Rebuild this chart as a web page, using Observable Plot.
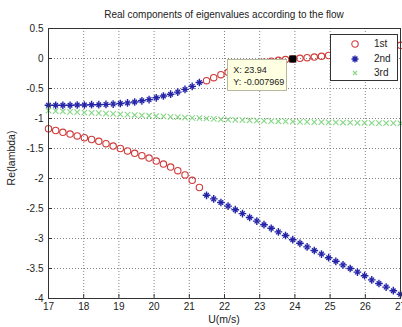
<!DOCTYPE html>
<html>
<head>
<meta charset="utf-8">
<script src="https://cdn.jsdelivr.net/npm/d3@7"></script>
<script src="https://cdn.jsdelivr.net/npm/@observablehq/plot@0.6"></script>
<style>
  html, body { margin: 0; padding: 0; background: #fff; }
  #wrap { position: relative; width: 402px; height: 327px; overflow: hidden; background: #fff;
          font-family: "Liberation Sans", Arial, sans-serif; color: #222; }
  #title { position: absolute; left: 48px; width: 352px; top: 9px; text-align: center; font-size: 10px; line-height: 12px; }
  #plot { position: absolute; left: 0; top: 20px; }
  #xlabel { position: absolute; left: 48px; width: 352px; top: 313px; text-align: center; font-size: 10.5px; line-height: 13px; }
  #ylabel { position: absolute; left: 11px; top: 158px; font-size: 10.5px; line-height: 12px; white-space: nowrap;
            transform: translate(-50%, -50%) rotate(-90deg); }
  #legend { position: absolute; left: 330px; top: 34px; width: 68px; height: 47px; border: 1px solid #333; background: #fff; box-sizing: border-box; }
  .lrow { position: absolute; left: 0; height: 14px; width: 68px; font-size: 10px; line-height: 14px; }
  .lrow svg { position: absolute; left: 19px; top: 2px; }
  .lrow span { position: absolute; left: 43px; top: 0; }
  #tip { position: absolute; background: #ffffe1; border: 1px solid #b8b8a0; box-sizing: border-box; width: 60px; height: 32px;
         font-size: 9px; line-height: 12px; padding: 4px 0 0 5px; white-space: nowrap; }
</style>
</head>
<body>
<div id="wrap">
  <div id="title"></div>
  <div id="plot"></div>
  <div id="xlabel"></div>
  <div id="ylabel"></div>
  <div id="legend"></div>
  <div id="tip"></div>
</div>
<script>
const titleText = "Real components of eigenvalues according to the flow";
const xLabel = "U(m/s)";
const yLabel = "Re(lambda)";

// flow speed samples (linspace 17..27, 50 points)
const U = [17.000, 17.204, 17.408, 17.612, 17.816, 18.020, 18.224, 18.429, 18.633, 18.837,
           19.041, 19.245, 19.449, 19.653, 19.857, 20.061, 20.265, 20.469, 20.673, 20.878,
           21.082, 21.286, 21.490, 21.694, 21.898, 22.102, 22.306, 22.510, 22.714, 22.918,
           23.122, 23.327, 23.531, 23.735, 23.939, 24.143, 24.347, 24.551, 24.755, 24.959,
           25.163, 25.367, 25.571, 25.776, 25.980, 26.184, 26.388, 26.592, 26.796, 27.000];

const first = [-1.17, -1.20, -1.23, -1.26, -1.29, -1.32, -1.35, -1.38, -1.42, -1.46,
               -1.50, -1.54, -1.58, -1.62, -1.66, -1.71, -1.76, -1.81, -1.87, -1.94,
               -2.03, -2.15, -0.37, -0.32, -0.27, -0.23, -0.19, -0.155, -0.12, -0.09,
               -0.062, -0.045, -0.03, -0.018, -0.008, 0.003, 0.013, 0.024, 0.036, 0.05,
               0.065, 0.08, 0.095, 0.11, 0.125, 0.14, 0.16, 0.18, 0.20, 0.22];

const second = [-0.78, -0.78, -0.78, -0.78, -0.775, -0.775, -0.77, -0.77, -0.765, -0.76,
                -0.75, -0.74, -0.725, -0.705, -0.685, -0.655, -0.625, -0.595, -0.56, -0.515,
                -0.465, -0.40, -2.28, -2.34, -2.40, -2.46, -2.52, -2.585, -2.65, -2.71,
                -2.77, -2.83, -2.89, -2.95, -3.02, -3.08, -3.14, -3.20, -3.26, -3.32,
                -3.38, -3.44, -3.50, -3.56, -3.62, -3.69, -3.75, -3.81, -3.87, -3.93];

const third = [-0.870, -0.876, -0.882, -0.888, -0.894, -0.900, -0.906, -0.912, -0.918, -0.924,
               -0.930, -0.936, -0.942, -0.948, -0.954, -0.960, -0.966, -0.972, -0.978, -0.984,
               -0.990, -0.995, -1.000, -1.007, -1.013, -1.020, -1.024, -1.028, -1.032, -1.036,
               -1.040, -1.043, -1.046, -1.049, -1.052, -1.055, -1.057, -1.059, -1.061, -1.063,
               -1.065, -1.067, -1.069, -1.071, -1.073, -1.075, -1.076, -1.077, -1.078, -1.080];

const xTicks = [17, 18, 19, 20, 21, 22, 23, 24, 25, 26, 27];
const yTicks = [0.5, 0, -0.5, -1, -1.5, -2, -2.5, -3, -3.5, -4];
const seriesNames = ["1st", "2nd", "3rd"];
const tipPoint = [{x: 23.939, y: -0.007969}];
const tipLines = ["X: 23.94", "Y: -0.007969"];

const RED = "#d03a3a", BLUE = "#2424a8", GREEN = "#86d886";

const rows = U.map((u, i) => ({u, a: first[i], b: second[i], c: third[i]}));

const chart = Plot.plot({
  width: 402, height: 307,
  marginTop: 8, marginBottom: 29, marginLeft: 48, marginRight: 2,
  style: {fontFamily: '"Liberation Sans", Arial, sans-serif', fontSize: "10px", color: "#222", background: "transparent", overflow: "visible"},
  x: {domain: [17, 27]},
  y: {domain: [-4, 0.5]},
  marks: [
    Plot.gridX(xTicks, {stroke: "#777", strokeOpacity: 0.9, strokeDasharray: "1,2"}),
    Plot.gridY(yTicks, {stroke: "#777", strokeOpacity: 0.9, strokeDasharray: "1,2"}),
    Plot.axisX(xTicks, {tickSize: -4, tickPadding: 8, tickFormat: d => String(d), label: null, stroke: "#333"}),
    Plot.axisY(yTicks, {tickSize: -4, tickPadding: 9, tickFormat: d => String(d), label: null, stroke: "#333"}),
    Plot.dot(rows, {x: "u", y: "c", symbol: "times", r: 2.6, stroke: GREEN, strokeWidth: 1.1}),
    Plot.dot(rows, {x: "u", y: "b", symbol: "plus", r: 2.6, stroke: BLUE, strokeWidth: 1.4}),
    Plot.dot(rows, {x: "u", y: "b", symbol: "times", r: 2.2, stroke: BLUE, strokeWidth: 1.4}),
    Plot.dot(rows, {x: "u", y: "a", symbol: "circle", r: 3.2, stroke: RED, strokeWidth: 1.1, fill: "none"}),
    Plot.dot(tipPoint, {x: "x", y: "y", symbol: "square", r: 4, fill: "#000", stroke: "none"}),
    Plot.frame({stroke: "#333"})
  ]
});
document.getElementById("plot").appendChild(chart);

document.getElementById("title").textContent = titleText;
document.getElementById("xlabel").textContent = xLabel;
document.getElementById("ylabel").textContent = yLabel;

// legend
const legend = document.getElementById("legend");
const symbols = [
  `<circle cx="5" cy="5" r="3.2" fill="none" stroke="${RED}" stroke-width="1.1"/>`,
  `<path d="M5,1.5V8.5M1.5,5H8.5M2.6,2.6L7.4,7.4M7.4,2.6L2.6,7.4" stroke="${BLUE}" stroke-width="1.4"/>`,
  `<path d="M3,3L7,7M7,3L3,7" stroke="${GREEN}" stroke-width="1.1"/>`
];
seriesNames.forEach((name, i) => {
  const row = document.createElement("div");
  row.className = "lrow";
  row.style.top = (2 + i * 14.5) + "px";
  row.innerHTML = `<svg width="10" height="10">${symbols[i]}</svg><span>${name}</span>`;
  legend.appendChild(row);
});

// data tip placed via the chart scales
const sx = chart.scale("x"), sy = chart.scale("y");
const px = sx.apply(tipPoint[0].x), py = sy.apply(tipPoint[0].y) + 20;
const tip = document.getElementById("tip");
tip.innerHTML = tipLines.join("<br>");
tip.style.left = (px - 65) + "px";
tip.style.top = (py + 1) + "px";
</script>
</body>
</html>
